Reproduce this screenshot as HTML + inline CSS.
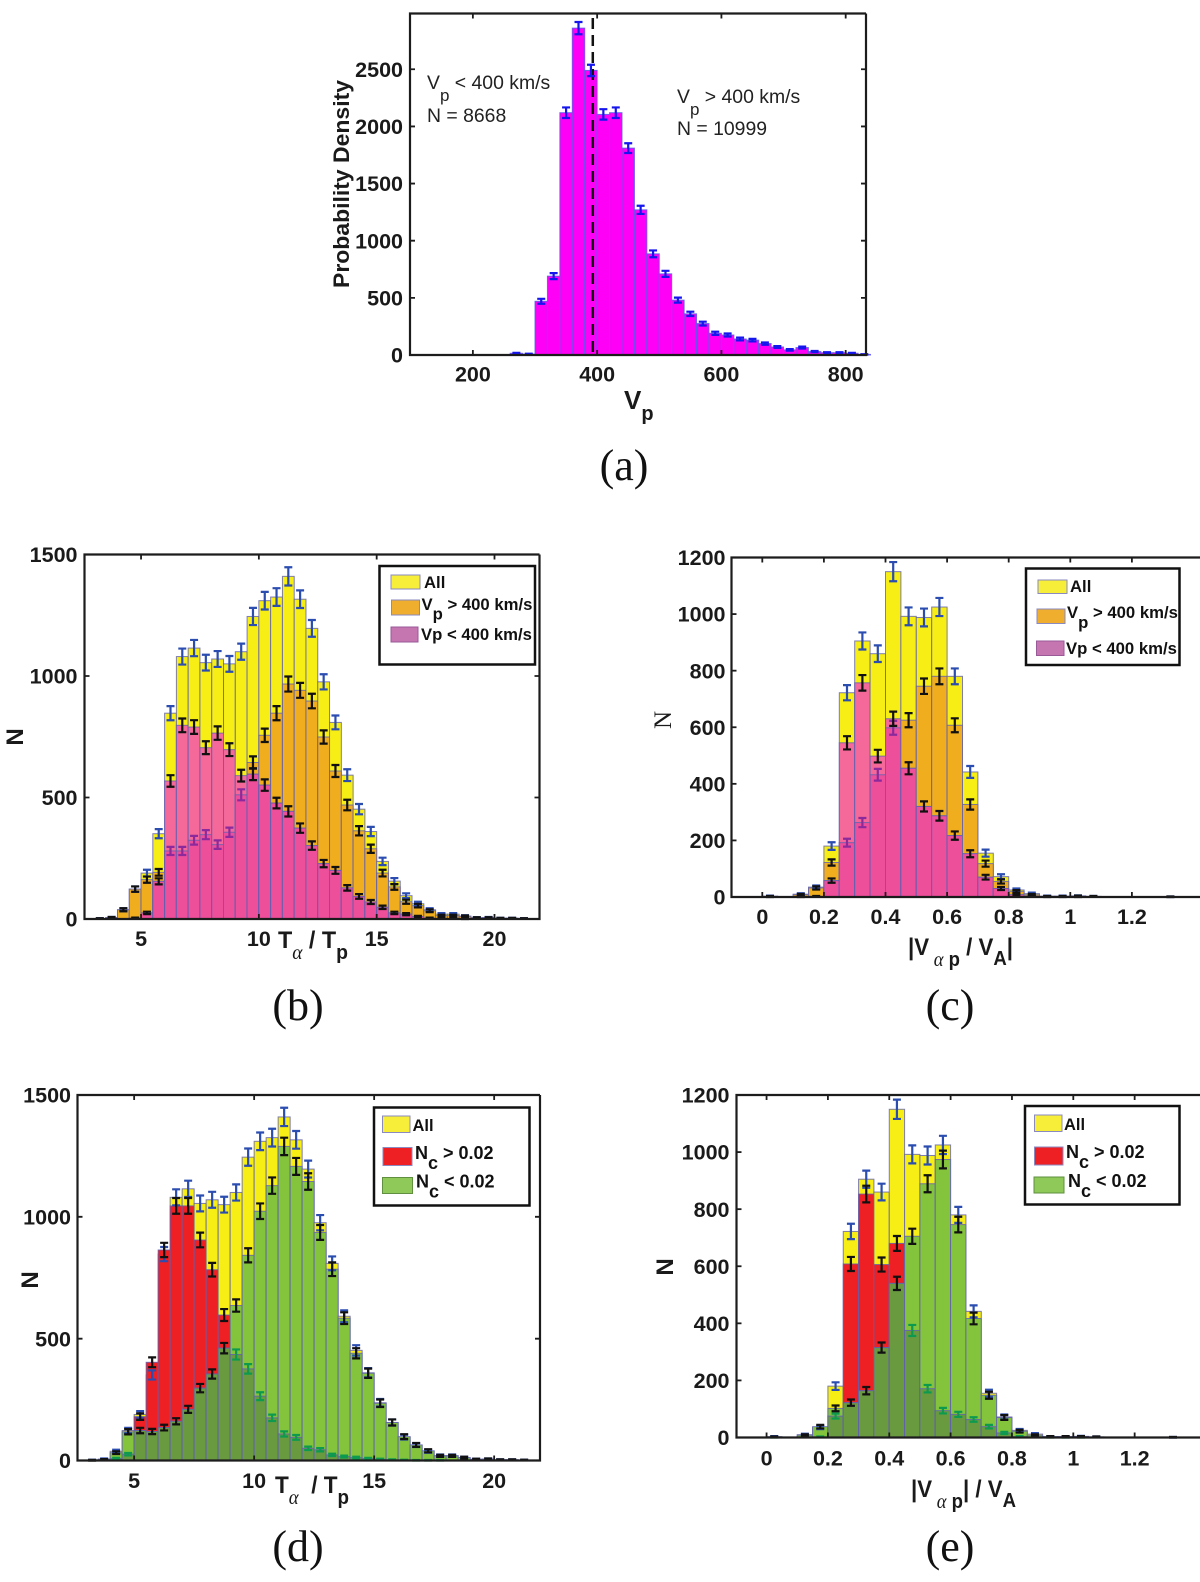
<!DOCTYPE html>
<html lang="en">
<head>
<meta charset="utf-8">
<title>Solar wind histograms</title>
<style>
html,body{margin:0;padding:0;background:#fff;}
svg{display:block;}
text{font-family:"Liberation Sans",sans-serif;fill:#1a1a1a;}
.leg{font-weight:bold;font-size:16.7px;fill:#111;}
.legn{font-weight:bold;font-size:18px;fill:#111;}
.note{font-size:19.4px;fill:#222;}
.tick{font-weight:bold;font-size:21.5px;}
.axl{font-weight:bold;font-size:24px;}
.cap{font-family:"Liberation Serif",serif;font-size:44px;fill:#111;text-anchor:middle;}
.gr{font-family:"Liberation Serif",serif;font-style:italic;font-weight:normal;}
</style>
</head>
<body>
<svg id="fig" xmlns="http://www.w3.org/2000/svg" width="1200" height="1582" viewBox="0 0 1200 1582">
  <rect x="0" y="0" width="1200" height="1582" fill="#fff"/>
  <g id="panel-a"></g>
  <g id="panel-b"></g>
  <g id="panel-c"></g>
  <g id="panel-d"></g>
  <g id="panel-e"></g>

  <!-- panel a text -->
  <text transform="translate(349,184) rotate(-90)" text-anchor="middle" font-weight="bold" font-size="22" textLength="208" lengthAdjust="spacingAndGlyphs">Probability Density</text>
  <text x="624" y="409" font-weight="bold" font-size="26">V<tspan dy="11" font-size="20">p</tspan></text>
  <text class="note" x="427" y="89">V<tspan dy="12" font-size="17">p</tspan><tspan dy="-12">&#160;&lt; 400 km/s</tspan></text>
  <text class="note" x="427" y="122">N = 8668</text>
  <text class="note" x="677" y="103">V<tspan dy="12" font-size="17">p</tspan><tspan dy="-12">&#160;&gt; 400 km/s</tspan></text>
  <text class="note" x="677" y="135">N = 10999</text>
  <text class="cap" x="624" y="480">(a)</text>

  <!-- panel b text -->
  <text transform="translate(23,737) rotate(-90)" text-anchor="middle" font-weight="bold" font-size="24">N</text>
  <text class="axl" x="278" y="948" textLength="70" lengthAdjust="spacingAndGlyphs">T<tspan class="gr" dy="11" font-size="20">α</tspan><tspan dy="-11">&#160;/ </tspan><tspan>T</tspan><tspan dy="11" font-size="20">p</tspan></text>
  <text class="cap" x="298" y="1020">(b)</text>
  <g>
    <rect x="379.5" y="566" width="155.5" height="98.5" fill="#fff" stroke="#111" stroke-width="2.5"/>
    <rect x="391" y="575" width="29" height="14" fill="#f7ee3a" stroke="#8a8ac0"/>
    <text class="leg" x="424" y="588">All</text>
    <rect x="391.5" y="600" width="28" height="15" fill="#efae2e" stroke="#8a8ac0"/>
    <text class="leg" x="421.5" y="610">V<tspan dy="9.5">p</tspan><tspan dy="-9.5">&#160;&gt; 400 km/s</tspan></text>
    <rect x="391" y="627" width="27" height="15" fill="#c575b0" stroke="#9a5a98"/>
    <text class="leg" x="421" y="640">Vp &lt; 400 km/s</text>
  </g>

  <!-- panel c text -->
  <text transform="translate(671,720) rotate(-90)" text-anchor="middle" font-size="25" style="font-family:'Liberation Serif',serif">N</text>
  <text class="axl" x="908" y="955" textLength="105" lengthAdjust="spacingAndGlyphs">|V<tspan class="gr" dy="11" font-size="20">&#160;α</tspan><tspan font-size="20"> p</tspan><tspan dy="-11">&#160;/ V</tspan><tspan dy="10" font-size="20">A</tspan><tspan dy="-10">|</tspan></text>
  <text class="cap" x="950" y="1020">(c)</text>
  <g>
    <rect x="1026" y="568.5" width="153.5" height="96.5" fill="#fff" stroke="#111" stroke-width="2.5"/>
    <rect x="1038" y="580" width="29" height="13.5" fill="#f7ee3a" stroke="#8a8ac0"/>
    <text class="leg" x="1070" y="592">All</text>
    <rect x="1037" y="609" width="28" height="14.5" fill="#efae2e" stroke="#8a8ac0"/>
    <text class="leg" x="1067" y="618">V<tspan dy="10">p</tspan><tspan dy="-10">&#160;&gt; 400 km/s</tspan></text>
    <rect x="1036.5" y="641" width="27.5" height="14.5" fill="#c575b0" stroke="#9a5a98"/>
    <text class="leg" x="1066" y="654">Vp &lt; 400 km/s</text>
  </g>

  <!-- panel d text -->
  <text transform="translate(38,1280) rotate(-90)" text-anchor="middle" font-weight="bold" font-size="24">N</text>
  <text class="axl" x="275" y="1493" textLength="74" lengthAdjust="spacingAndGlyphs">T<tspan class="gr" dy="11" font-size="20">α</tspan><tspan dy="-11">&#160;&#160;/ </tspan><tspan>T</tspan><tspan dy="11" font-size="20">p</tspan></text>
  <text class="cap" x="298" y="1561">(d)</text>
  <g>
    <rect x="374" y="1107.5" width="155.5" height="98" fill="#fff" stroke="#111" stroke-width="2.5"/>
    <rect x="382.5" y="1116" width="27.5" height="16.5" fill="#f7ee3a" stroke="#8a8ac0"/>
    <text class="legn" x="412.5" y="1131" style="font-size:16.5px">All</text>
    <rect x="383" y="1147.5" width="29" height="18" fill="#ee2024" stroke="#8a8ac0"/>
    <text class="legn" x="415" y="1159">N<tspan dy="10">c</tspan><tspan dy="-10">&#160;&gt; 0.02</tspan></text>
    <rect x="382.5" y="1177.5" width="30" height="16" fill="#8fc95a" stroke="#5f8f3f"/>
    <text class="legn" x="416" y="1187.5">N<tspan dy="10">c</tspan><tspan dy="-10">&#160;&lt; 0.02</tspan></text>
  </g>

  <!-- panel e text -->
  <text transform="translate(673,1267) rotate(-90)" text-anchor="middle" font-weight="bold" font-size="24">N</text>
  <text class="axl" x="911" y="1497" textLength="105" lengthAdjust="spacingAndGlyphs">|V<tspan class="gr" dy="11" font-size="20">&#160;α</tspan><tspan font-size="20"> p</tspan><tspan dy="-11">| / V</tspan><tspan dy="10" font-size="20">A</tspan></text>
  <text class="cap" x="950" y="1561">(e)</text>
  <g>
    <rect x="1025" y="1106" width="154.5" height="98.5" fill="#fff" stroke="#111" stroke-width="2.5"/>
    <rect x="1034.5" y="1115" width="27.5" height="16.5" fill="#f7ee3a" stroke="#8a8ac0"/>
    <text class="legn" x="1064" y="1130" style="font-size:16.5px">All</text>
    <rect x="1034.5" y="1147" width="28.5" height="18" fill="#ee2024" stroke="#8a8ac0"/>
    <text class="legn" x="1066" y="1158">N<tspan dy="10">c</tspan><tspan dy="-10">&#160;&gt; 0.02</tspan></text>
    <rect x="1034" y="1177" width="30" height="16" fill="#8fc95a" stroke="#5f8f3f"/>
    <text class="legn" x="1068" y="1187">N<tspan dy="10">c</tspan><tspan dy="-10">&#160;&lt; 0.02</tspan></text>
  </g>
</svg>

<script>
// ---- data ----
const speedBins = [260,280,300,320,340,360,380,400,420,440,460,480,500,520,540,560,580,600,620,640,660,680,700,720,740,760,780,800,820];
const speedDensity = [15,8,470,690,2120,2860,2490,2105,2120,1810,1270,885,710,480,360,275,190,175,140,130,100,70,45,65,30,20,20,15,5];
const speedXTicks = [200,400,600,800];
const speedYTicks = [0,500,1000,1500,2000,2500];
const speedThreshold = 393;

const ratioBins = [3,3.5,4,4.5,5,5.5,6,6.5,7,7.5,8,8.5,9,9.5,10,10.5,11,11.5,12,12.5,13,13.5,14,14.5,15,15.5,16,16.5,17,17.5,18,18.5,19,19.5,20,20.5,21];
const ratioAll = [2,6,38,123,189,351,847,1080,1115,1055,1070,1050,1100,1245,1310,1325,1410,1316,1196,976,809,592,452,360,237,156,96,63,38,20,20,12,5,6,3,3,2];
const ratioFast = [2,6,38,123,162,192,280,280,324,347,306,357,511,644,756,847,967,941,897,749,609,469,363,289,189,132,71,55,34,14,14,11,5,5,3,3,2];
const ratioSlow = [0,0,0,4,25,155,568,797,790,705,765,697,590,596,551,477,443,374,302,228,200,128,93,70,48,25,20,10,4,2,2,1,0,0,0,0,0];
const ratioHighNc = [1,2,8,26,180,403,864,1045,1045,905,783,597,435,376,264,175,109,95,50,44,23,16,12,8,5,3,2,1,1,1,0,0,0,0,0,0,0];
const ratioLowNc = [1,4,32,118,123,119,135,161,210,297,355,461,636,842,1023,1128,1289,1207,1145,936,785,584,440,358,235,156,98,64,40,19,19,12,5,6,3,3,2];
const ratioXTicks = [5,10,15,20];
const ratioYTicks = [0,500,1000,1500];

const driftBins = [0,0.05,0.1,0.15,0.2,0.25,0.3,0.35,0.4,0.45,0.5,0.55,0.6,0.65,0.7,0.75,0.8,0.85,0.9,0.95,1,1.05,1.1,1.15,1.2,1.25,1.3];
const driftAll = [3,0,10,35,180,722,905,860,1150,992,988,1025,780,442,155,72,25,12,3,3,4,2,0,0,0,0,1];
const driftFast = [2,0,8,32,122,192,263,432,598,625,745,780,607,327,118,55,20,8,2,2,3,2,0,0,0,0,1];
const driftSlow = [1,0,1,2,58,545,757,498,630,455,320,287,217,153,70,30,8,3,1,1,1,0,0,0,0,0,0];
const driftHighNc = [1,0,2,2,75,608,853,606,680,375,171,94,81,63,38,16,3,2,1,1,1,0,0,0,0,0,0];
const driftLowNc = [2,0,8,38,102,122,164,315,540,705,889,974,746,417,148,70,22,8,3,3,3,2,0,0,0,0,1];
const driftXTicks = [0,0.2,0.4,0.6,0.8,1,1.2];
const driftYTicks = [0,200,400,600,800,1000,1200];

// ---- drawing helpers ----
const NS = 'http://www.w3.org/2000/svg';
function make(tag, attrs, parent) {
  const e = document.createElementNS(NS, tag);
  for (const k in attrs) e.setAttribute(k, attrs[k]);
  parent.appendChild(e);
  return e;
}
function scaleLinear(d0, d1, r0, r1) {
  return function (v) { return r0 + (v - d0) / (d1 - d0) * (r1 - r0); };
}
function drawBar(g, x, y, binStart, binW, v, fill, stroke) {
  if (v <= 0) return;
  const top = y(v);
  const el = make('rect', {x: x(binStart), y: top, width: x(binStart + binW) - x(binStart), height: y(0) - top, fill: fill, stroke: stroke, 'stroke-width': 1}, g);
  
  
}
function drawErr(g, x, y, binStart, binW, v, color, capW) {
  if (v <= 0) return;
  const cx = x(binStart + binW / 2);
  // counting (Poisson) uncertainty of the bin value
  const e = Math.sqrt(v);
  const hi = y(v + e), lo = y(Math.max(0, v - e));
  const el = make('path', {d: 'M' + (cx - capW / 2) + ' ' + hi + 'H' + (cx + capW / 2) + 'M' + (cx - capW / 2) + ' ' + lo + 'H' + (cx + capW / 2) + 'M' + cx + ' ' + hi + 'V' + lo, fill: 'none', stroke: color, 'stroke-width': 2.2}, g);
  
  
}
function drawAxes(g, box, x, y, xTicks, yTicks, opt) {
  const color = '#1c1c1c';
  const right = opt.openRight ? 1200 : box.right;
  const halo = make('path', {d: 'M' + right + ' ' + box.top + 'H' + box.left + 'V' + box.bottom + 'H' + right + (opt.openRight ? '' : 'V' + box.top), fill: 'none', stroke: '#1c1c1c', 'stroke-width': 2.2}, g);
  
  
  xTicks.forEach(function (t) {
    const px = x(t);
    const tk = make('path', {d: 'M' + px + ' ' + box.bottom + 'v-5M' + px + ' ' + box.top + 'v5', stroke: color, 'stroke-width': 1.8}, g);
    
    
    const lb = make('text', {x: px, y: opt.xLabelY, 'text-anchor': 'middle', class: 'tick'}, g);
    
    
    lb.textContent = String(t);
  });
  yTicks.forEach(function (t) {
    const py = y(t);
    const tk = make('path', {d: 'M' + box.left + ' ' + py + 'h5' + (opt.openRight ? '' : 'M' + box.right + ' ' + py + 'h-5'), stroke: color, 'stroke-width': 1.8}, g);
    
    
    const lb = make('text', {x: opt.yLabelX, y: py + 7.6, 'text-anchor': 'end', class: 'tick'}, g);
    
    
    lb.textContent = String(t);
  });
}
function drawStack(g, box, xDomain, yMax, bins, binW, all, s1, s2, style, xTicks, yTicks, opt) {
  const x = scaleLinear(xDomain[0], xDomain[1], box.left, box.right);
  const y = scaleLinear(0, yMax, box.bottom, box.top);
  const edge = 'rgba(95,95,175,0.8)';
  bins.forEach(function (b, i) {
    drawBar(g, x, y, b, binW, all[i], '#f6ee14', edge);
    drawBar(g, x, y, b, binW, s1[i], style.c1, edge);
    drawBar(g, x, y, b, binW, s2[i], style.c2, edge);
    drawBar(g, x, y, b, binW, Math.min(s1[i], s2[i]), style.overlap, edge);
  });
  bins.forEach(function (b, i) {
    drawErr(g, x, y, b, binW, all[i], '#2b4db0', 8);
    drawErr(g, x, y, b, binW, s1[i], s1[i] < s2[i] ? style.under : '#111', 8);
    drawErr(g, x, y, b, binW, s2[i], '#111', 8);
  });
  drawAxes(g, box, x, y, xTicks, yTicks, opt);
}

// ---- panel a ----
(function () {
  const g = document.getElementById('panel-a');
  const box = {left: 410, right: 866, top: 13.5, bottom: 355};
  const x = scaleLinear(98.8, 832.7, box.left, box.right);
  const y = scaleLinear(0, 2988, box.bottom, box.top);
  speedBins.forEach(function (b, i) {
    drawBar(g, x, y, b, 20, speedDensity[i], '#ff00f6', 'rgba(90,90,235,0.85)');
  });
  const dash = make('line', {x1: x(speedThreshold), x2: x(speedThreshold), y1: 18, y2: box.bottom, stroke: '#111', 'stroke-width': 2.5, 'stroke-dasharray': '11 6'}, g);
  
  
  speedBins.forEach(function (b, i) {
    drawErr(g, x, y, b, 20, speedDensity[i], '#1515ee', 8);
  });
  drawAxes(g, box, x, y, speedXTicks, speedYTicks, {xLabelY: 381.5, yLabelX: 403});
})();

// ---- panels b-e ----
const speedStyle = {c1: '#f0ad1e', c2: '#f4699a', overlap: '#ee4f9b', under: '#8c2a9c'};
const collisionStyle = {c1: '#ee2024', c2: '#84c43c', overlap: '#6a9a40', under: '#0e9a4e'};

drawStack(document.getElementById('panel-b'),
  {left: 84.5, right: 539.5, top: 554.5, bottom: 919},
  [2.6, 21.91], 1500, ratioBins, 0.5, ratioAll, ratioFast, ratioSlow, speedStyle, ratioXTicks, ratioYTicks,
  {xLabelY: 946, yLabelX: 77.5});

drawStack(document.getElementById('panel-c'),
  {left: 731.5, right: 1193.5, top: 557.5, bottom: 897},
  [-0.1, 1.4], 1200, driftBins, 0.05, driftAll, driftFast, driftSlow, speedStyle, driftXTicks, driftYTicks,
  {xLabelY: 924, yLabelX: 725.5, openRight: true});

drawStack(document.getElementById('panel-d'),
  {left: 77.5, right: 540, top: 1095, bottom: 1460.5},
  [2.64, 21.91], 1500, ratioBins, 0.5, ratioAll, ratioHighNc, ratioLowNc, collisionStyle, ratioXTicks, ratioYTicks,
  {xLabelY: 1488, yLabelX: 71});

drawStack(document.getElementById('panel-e'),
  {left: 736.5, right: 1196, top: 1095, bottom: 1437.5},
  [-0.098, 1.4], 1200, driftBins, 0.05, driftAll, driftHighNc, driftLowNc, collisionStyle, driftXTicks, driftYTicks,
  {xLabelY: 1465.5, yLabelX: 729.5, openRight: true});
</script>
</body>
</html>
